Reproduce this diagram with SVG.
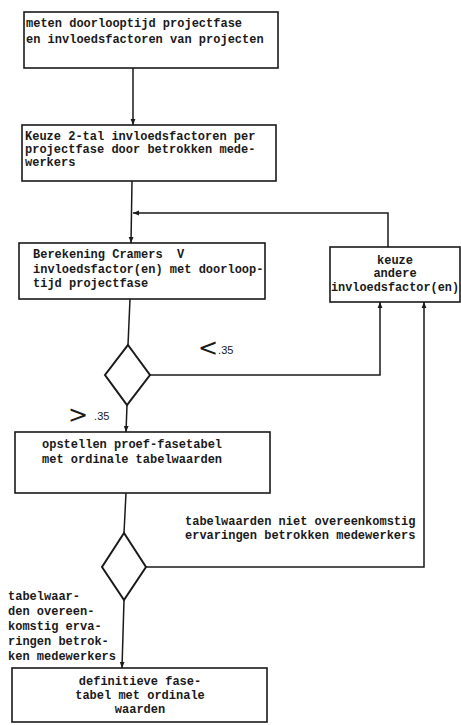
<svg xmlns="http://www.w3.org/2000/svg" width="461" height="725" viewBox="0 0 461 725">
<defs>
<style>
.box{fill:#fff;stroke:#1a1a1a;stroke-width:1.6}
.dia{fill:#fff;stroke:#1a1a1a;stroke-width:2}
.ln{fill:none;stroke:#1a1a1a;stroke-width:1.5}
text{font-family:"Liberation Mono","DejaVu Sans Mono",monospace;font-size:12px;font-weight:bold;fill:#1a1a1a;white-space:pre}
.big{font-family:"DejaVu Sans","Liberation Sans",sans-serif;font-size:24px;font-weight:normal}
.sm{font-family:"Liberation Sans",sans-serif;font-size:11px;font-weight:normal}
</style>
<marker id="ar" viewBox="0 0 10 10" refX="10" refY="5" markerWidth="6" markerHeight="6" orient="auto-start-reverse" markerUnits="userSpaceOnUse">
<path d="M0,1 L10,5 L0,9 Z" fill="#1a1a1a"/>
</marker>
</defs>
<rect width="461" height="725" fill="#fff"/>
<g id="connectors">
<line class="ln" x1="133" y1="68" x2="133" y2="125" marker-end="url(#ar)"/>
<line class="ln" x1="132" y1="181" x2="131" y2="243" marker-end="url(#ar)"/>
<polyline class="ln" points="388,247 388,213 133,213" marker-end="url(#ar)"/>
<line class="ln" x1="130" y1="299" x2="128" y2="345"/>
<polyline class="ln" points="150,375 380,375 380,302" marker-end="url(#ar)"/>
<line class="ln" x1="127" y1="405" x2="126" y2="432" marker-end="url(#ar)"/>
<line class="ln" x1="126" y1="493" x2="124" y2="533"/>
<polyline class="ln" points="146,567 424,567 424,302" marker-end="url(#ar)"/>
<line class="ln" x1="124" y1="600" x2="122" y2="668" marker-end="url(#ar)"/>
</g>
<g id="n1">
<rect class="box" x="24" y="12" width="254" height="56"/>
<text x="26" y="27">meten doorlooptijd projectfase</text>
<text x="26" y="43">en invloedsfactoren van projecten</text>
</g>
<g id="n2">
<rect class="box" x="22" y="125" width="254" height="56"/>
<text x="25" y="140">Keuze 2-tal invloedsfactoren per</text>
<text x="25" y="153">projectfase door betrokken mede-</text>
<text x="25" y="166">werkers</text>
</g>
<g id="n3">
<rect class="box" x="19" y="243" width="246" height="56"/>
<text x="33" y="258" xml:space="preserve">Berekening Cramers  V</text>
<text x="33" y="273">invloedsfactor(en) met doorloop-</text>
<text x="33" y="287">tijd projectfase</text>
</g>
<g id="n4">
<rect class="box" x="330" y="247" width="130" height="55"/>
<text x="395" y="264" text-anchor="middle">keuze</text>
<text x="395" y="277" text-anchor="middle">andere</text>
<text x="331" y="291" textLength="128" lengthAdjust="spacingAndGlyphs">invloedsfactor(en)</text>
</g>
<g id="d1">
<polygon class="dia" points="128,345 150,375 127,405 105,375"/>
</g>
<g id="lbl1">
<text x="198" y="356"><tspan class="big">&lt;</tspan><tspan class="sm" dy="-2">.35</tspan></text>
<text x="68" y="423"><tspan class="big">&gt;</tspan><tspan class="sm" dx="6" dy="-3">.35</tspan></text>
</g>
<g id="n5">
<rect class="box" x="15" y="432" width="255" height="61"/>
<text x="42" y="448">opstellen proef-fasetabel</text>
<text x="42" y="463">met ordinale tabelwaarden</text>
</g>
<g id="d2">
<polygon class="dia" points="124,533 146,567 124,600 102,567"/>
</g>
<g id="lbl2">
<text x="185" y="525">tabelwaarden niet overeenkomstig</text>
<text x="185" y="539">ervaringen betrokken medewerkers</text>
<text x="8" y="600">tabelwaar-</text>
<text x="8" y="615">den overeen-</text>
<text x="8" y="630">komstig erva-</text>
<text x="8" y="645">ringen betrok-</text>
<text x="8" y="660">ken medewerkers</text>
</g>
<g id="n6">
<rect class="box" x="12" y="668" width="255" height="54"/>
<text x="140" y="685" text-anchor="middle">definitieve fase-</text>
<text x="140" y="699" text-anchor="middle">tabel met ordinale</text>
<text x="140" y="713" text-anchor="middle">waarden</text>
</g>
</svg>
